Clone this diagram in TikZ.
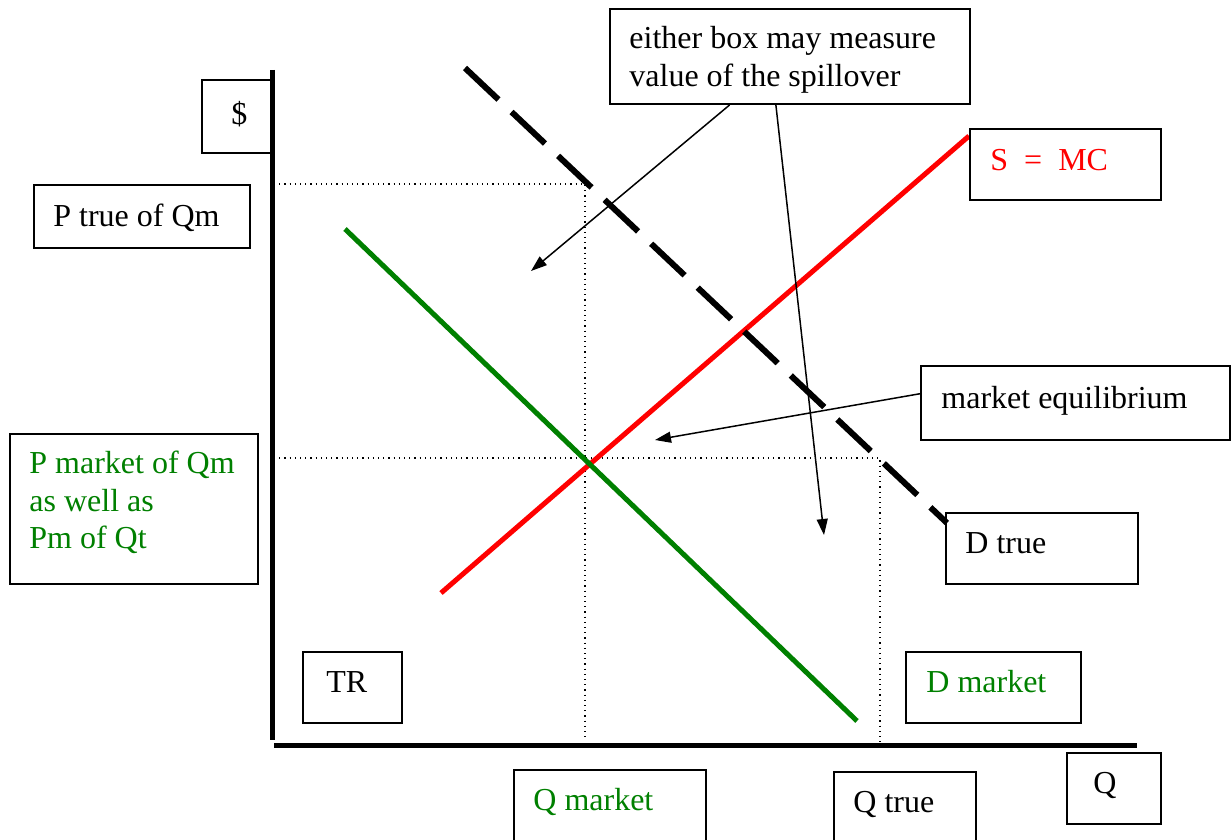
\documentclass[tikz,border=0pt]{standalone}
\usepackage{fontspec}
\setmainfont{Liberation Serif}
\usetikzlibrary{arrows.meta,calc}
\definecolor{dgreen}{RGB}{0,128,0}
\begin{document}
\begin{tikzpicture}[x=0.5pt,y=-0.5pt,
  box/.style={draw,line width=1pt,inner sep=0pt,anchor=north west},
  lbl/.style={inner sep=0pt,anchor=base west,font=\fontsize{16}{18.75}\selectfont},
  mlbl/.style={inner sep=0pt,anchor=north west,align=left,font=\fontsize{16}{18.75}\selectfont},
  curve/.style={line width=2.5pt},
  axis/.style={line width=2.5pt},
  guide/.style={dotted,line width=0.6pt},
  pointer/.style={line width=0.75pt,-{Triangle[length=8pt,width=5.5pt]}}]
\useasboundingbox (0,0) rectangle (1231,840);

% axes
\coordinate (ytop) at (272,70);
\coordinate (ybot) at (272,740);
\coordinate (xl) at (274,745);
\coordinate (xr) at (1137,745);
\draw[axis] (ytop) -- (ybot);
\draw[axis] (xl) -- (xr);

% guide lines
\coordinate (g1a) at (274,184);
\coordinate (g1b) at (585,740);
\coordinate (g2a) at (274,458);
\coordinate (g2b) at (880,745);
\draw[guide] (g1a) -| (g1b);
\draw[guide] (g2a) -| (g2b);

% curves
\coordinate (s0) at (441,593);
\coordinate (s1) at (969,136);
\draw[curve,red] (s0) -- (s1);
\coordinate (dm0) at (345,229);
\coordinate (dm1) at (857,721);
\draw[curve,dgreen] (dm0) -- (dm1);
\coordinate (dt0) at (465,68);
\coordinate (dt1) at (947,523);
\draw[line width=3pt,dash pattern=on 23pt off 9pt] (dt0) -- (dt1);

% boxes
\node[box,minimum width=35.5pt,minimum height=36.5pt] (dollarbox) at (201,79) {};
\node[box,minimum width=108pt,minimum height=31.5pt] (ptruebox) at (33,184) {};
\node[box,minimum width=124pt,minimum height=75pt] (pmktbox) at (9,433) {};
\node[box,minimum width=49.5pt,minimum height=35.5pt] (trbox) at (302,651) {};
\node[box,minimum width=96pt,minimum height=40pt] (qmktbox) at (513,769) {};
\node[box,minimum width=71pt,minimum height=40pt] (qtruebox) at (833,771) {};
\node[box,minimum width=47pt,minimum height=35.5pt] (qbox) at (1066,752) {};
\node[box,minimum width=87.5pt,minimum height=35.5pt] (dmktbox) at (905,651) {};
\node[box,minimum width=96pt,minimum height=35.5pt] (dtruebox) at (945,512) {};
\node[box,minimum width=154.5pt,minimum height=37pt] (eqbox) at (920,365) {};
\node[box,minimum width=95.5pt,minimum height=35.5pt] (smcbox) at (969,128) {};
\node[box,minimum width=180pt,minimum height=47.5pt] (spillbox) at (609,8) {};

% labels
\node[lbl] (dollar) at (231,125) {\$};
\node[lbl] (ptrue) at (53,226) {P true of Qm};
\node[mlbl,text=dgreen] (pmkt) at (29,451) {P market of Qm\\as well as\\Pm of Qt};
\node[lbl] (tr) at (326,692) {TR};
\node[lbl,text=dgreen] (qmkt) at (533,810) {Q market};
\node[lbl] (qtrue) at (853,812) {Q true};
\node[lbl] (q) at (1093,793) {Q};
\node[lbl,text=dgreen] (dmkt) at (926,692) {D market};
\node[lbl] (dtrue) at (965,553) {D true};
\node[lbl] (eq) at (941,408) {market equilibrium};
\node[lbl,text=red] (smc) at (990,170) {S\ \ =\ \ MC};
\node[mlbl] (spill) at (629,26) {either box may measure\\value of the spillover};

% pointers
\coordinate (p1) at (531,271);
\coordinate (p2) at (824,535);
\coordinate (p3) at (655,440);
\draw[pointer] ($(spillbox.south west)!0.333!(spillbox.south east)$) -- (p1);
\draw[pointer] ($(spillbox.south west)!0.461!(spillbox.south east)$) -- (p2);
\draw[pointer] ($(eqbox.north west)!0.378!(eqbox.south west)$) -- (p3);
\end{tikzpicture}
\end{document}
